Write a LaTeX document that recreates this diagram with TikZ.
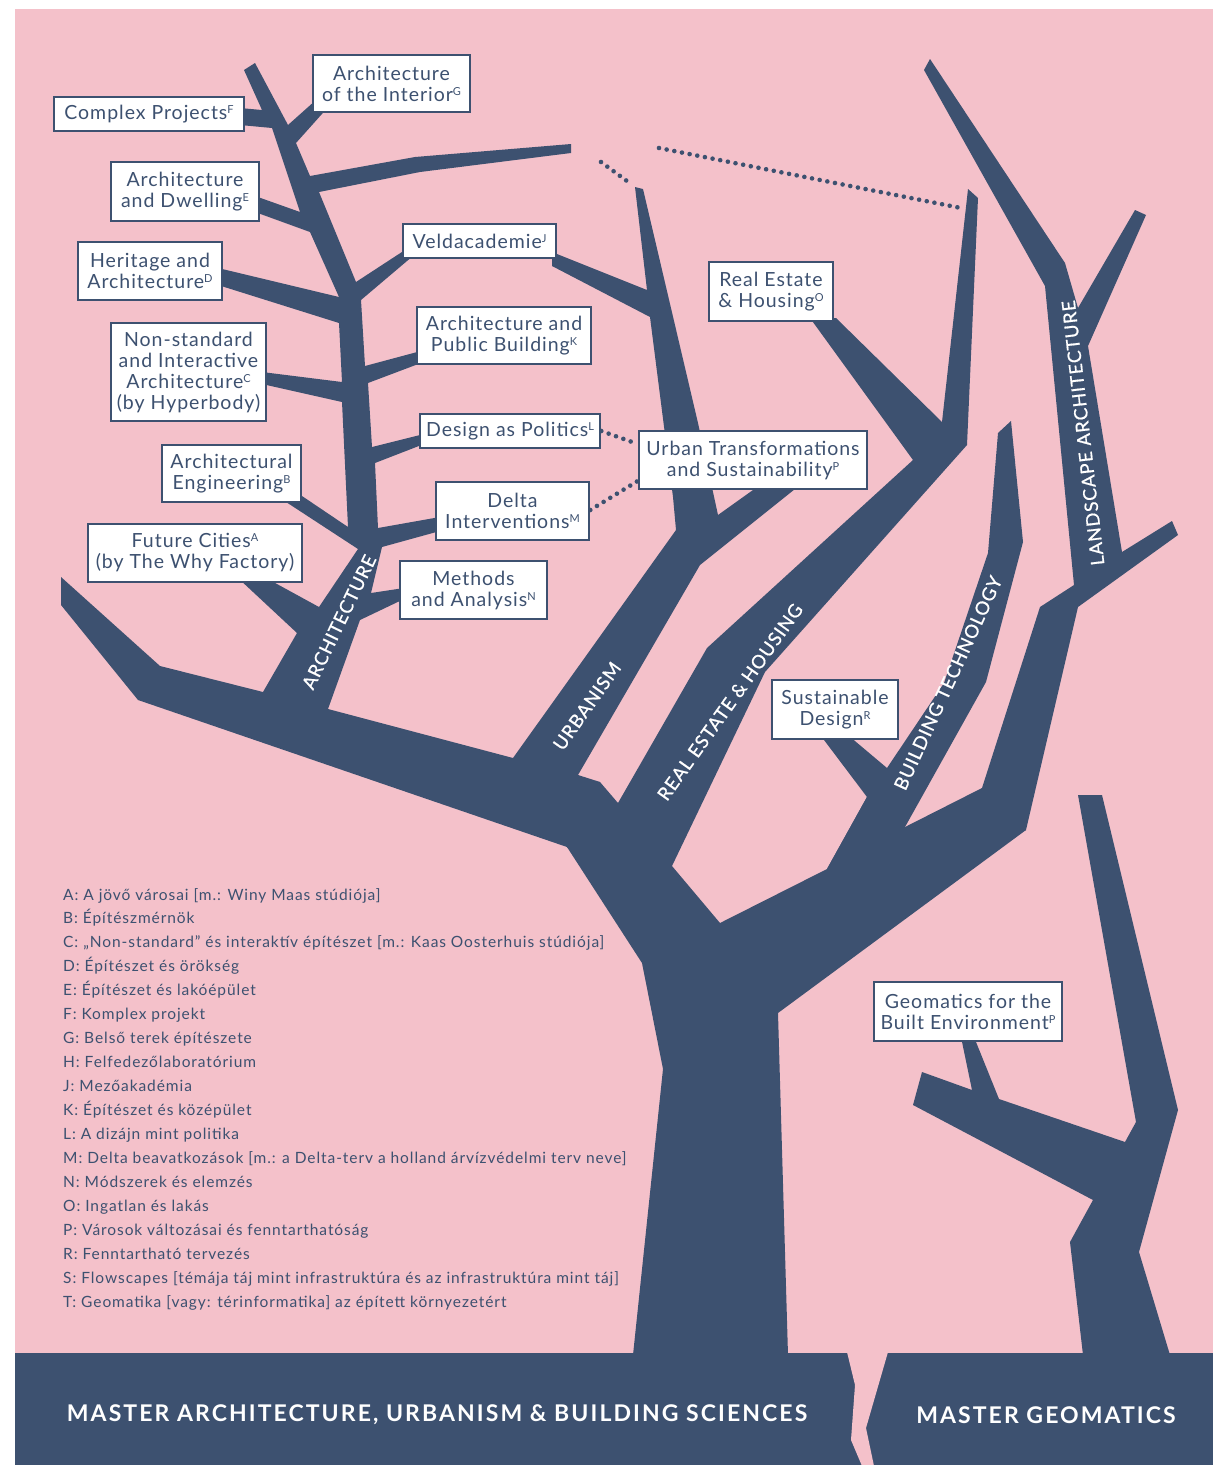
\documentclass[tikz,border=0pt]{standalone}
\usepackage{fontspec}
\setmainfont{Lato}
\usetikzlibrary{calc}
\definecolor{pinkbg}{HTML}{F4C1CA}
\definecolor{navy}{HTML}{3D5170}
% small raised index letter after a programme name
\newcommand{\idx}[1]{\raisebox{6pt}{\fontsize{11}{11}\selectfont #1}}

\begin{document}
\begin{tikzpicture}[x=1pt,y=-1pt,
  wood/.style={fill=navy,draw=none},
  box/.style={draw=navy,line width=2.6pt,fill=white,text=navy,align=center,inner sep=0pt,
    font=\fontsize{19.5}{21}\selectfont\addfontfeature{LetterSpace=5}},
  limb/.style={text=white,inner sep=0pt,
    font=\fontsize{18.5}{18.5}\selectfont\addfontfeature{LetterSpace=5,FakeBold=0.8}},
  dots/.style={navy,line width=4.6pt,line cap=round,dash pattern=on 0pt off 7.8pt},
  legend/.style={text=navy,anchor=base west,inner sep=0pt,
    font=\fontsize{15.5}{15.5}\selectfont\addfontfeature{LetterSpace=6}},
  band/.style={text=white,inner sep=0pt,
    font=\fontsize{23}{23}\selectfont\bfseries\addfontfeature{LetterSpace=9}}
]
\useasboundingbox (0,0) rectangle (1213,1465);
\fill[white] (0,0) rectangle (1213,1465);
\fill[pinkbg] (15,9) rectangle (1213,1353);
\fill[navy] (15,1353) rectangle (1213,1465);

% ---- main tree ----
% trunk and hub
\fill[wood] (633,1355) -- (663,1069) -- (642,963) -- (567,847) -- (520,780) -- (600,782)
  -- (618,803) -- (672,866) -- (720,923) -- (827,869) -- (867,797) -- (905,827)
  -- (982,788) -- (1026,830) -- (778,1013) -- (788,1355) -- cycle;
% long limb to the left
\fill[wood] (567,847) -- (138,700) -- (61,605) -- (61,577) -- (160,666) -- (263,692)
  -- (328,709) -- (513,758) -- (598,790) -- (600,880) -- cycle;
% architecture stem with its twigs (its foot reaches into the limb)
\fill[wood] (263,692) -- (297,633) -- (238,578) -- (266,578) -- (319,607) -- (358,549)
  -- (283,500) -- (302,496) -- (348,527) -- (342,402) -- (262,384) -- (262,372)
  -- (342,382) -- (339,323) -- (218,285) -- (218,268) -- (339,297) -- (310,232)
  -- (255,212) -- (255,196) -- (300,212) -- (272,128) -- (240,125) -- (240,108)
  -- (262,110) -- (244,70) -- (255,63) -- (288,125) -- (316,100) -- (330,105)
  -- (296,143) -- (310,176) -- (415,157) -- (571,144) -- (571,153) -- (420,172)
  -- (319,192) -- (356,282) -- (405,250) -- (420,250) -- (361,300) -- (365,366)
  -- (421,351) -- (421,363) -- (368,383) -- (372,447) -- (424,434) -- (424,444)
  -- (375,463) -- (378,528) -- (440,517) -- (440,531) -- (382,547) -- (371,593)
  -- (404,588) -- (404,599) -- (360,620) -- (328,709) -- (330,730) -- (260,715) -- cycle;
% urbanism
\fill[wood] (513,758) -- (676,530) -- (673,497) -- (650,317) -- (552,266) -- (552,252)
  -- (647,290) -- (635,187) -- (643,189) -- (698,423) -- (718,515) -- (760,485)
  -- (800,485) -- (700,565) -- (578,775) -- (600,782) -- (600,830) -- (540,820) -- cycle;
% real estate and housing
\fill[wood] (618,803) -- (707,648) -- (913,460) -- (810,318) -- (836,318) -- (942,422)
  -- (968,189) -- (978,198) -- (967,445) -- (765,672) -- (672,866) -- (640,870) -- cycle;
% building technology
\fill[wood] (867,797) -- (821,736) -- (849,736) -- (887,768) -- (944,683) -- (988,553)
  -- (998,433) -- (1011,421) -- (1023,542) -- (986,682) -- (905,827) -- (827,869) -- cycle;
% landscape architecture (its foot reaches into the hub)
\fill[wood] (982,788) -- (1040,607) -- (1074,585) -- (1045,286) -- (924,70) -- (930,59)
  -- (1065,263) -- (1078,308) -- (1135,210) -- (1146,215) -- (1088,346) -- (1122,552)
  -- (1172,521) -- (1178,535) -- (1078,607) -- (1026,830) -- (960,865) -- (960,810) -- cycle;

% ---- geomatics tree ----
\fill[wood] (1083,1355) -- (1070,1242) -- (1093,1200) -- (913,1105) -- (922,1072)
  -- (972,1090) -- (961,1037) -- (974,1037) -- (999,1099) -- (1125,1142) -- (1136,1122)
  -- (1078,795) -- (1102,795) -- (1178,1110) -- (1139,1252) -- (1170,1355) -- cycle;

% crack in the base band
\fill[pinkbg] (847,1352) -- (855,1385) -- (851,1440) -- (862,1466) -- (874,1466)
  -- (866,1428) -- (888,1352) -- cycle;

% dotted continuations
\coordinate (ua) at (601,162);
\coordinate (ub) at (631,184);
\coordinate (ha) at (659,148);
\coordinate (hb) at (961,208);
\draw[dots] (ua) -- (ub);
\draw[dots] (ha) -- (hb);

% ---- programme boxes ----
\node[box,minimum width=190,minimum height=34] (F) at (149,114) {Complex Projects\idx{F}};
\node[box,minimum width=157,minimum height=57] (G) at (391.5,83.5) {Architecture\\of the Interior\idx{G}};
\node[box,minimum width=148,minimum height=59] (E) at (185,191.5) {Architecture\\and Dwelling\idx{E}};
\node[box,minimum width=144,minimum height=58] (D) at (150,271) {Heritage and\\Architecture\idx{D}};
\node[box,minimum width=155,minimum height=98] (C) at (188.5,372) {Non-standard\\and Interactive\\Architecture\idx{C}\\(by Hyperbody)};
\node[box,minimum width=139,minimum height=57] (B) at (231.5,473.5) {Architectural\\Engineering\idx{B}};
\node[box,minimum width=214,minimum height=58] (A) at (195,553) {Future Cities\idx{A}\\(by The Why Factory)};
\node[box,minimum width=153,minimum height=34] (J) at (479.5,241) {Veldacademie\idx{J}};
\node[box,minimum width=174,minimum height=57] (K) at (504,335.5) {Architecture and\\Public Building\idx{K}};
\node[box,minimum width=180,minimum height=34] (L) at (510,431) {Design as Politics\idx{L}};
\node[box,minimum width=153,minimum height=58] (M) at (512.5,511) {Delta\\Interventions\idx{M}};
\node[box,minimum width=147,minimum height=58] (N) at (473.5,590) {Methods\\and Analysis\idx{N}};
\node[box,minimum width=124,minimum height=59] (O) at (771,291.5) {Real Estate\\\& Housing\idx{O}};
\node[box,minimum width=228,minimum height=58] (P) at (753,460) {Urban Transformations\\and Sustainability\idx{P}};
\node[box,minimum width=126,minimum height=59] (R) at (835,709.5) {Sustainable\\Design\idx{R}};
\node[box,minimum width=188,minimum height=59] (T) at (968,1011.5) {Geomatics for the\\Built Environment\idx{P}};

% dotted links to Urban Transformations
\draw[dots] (L.east) -- ([yshift=16pt]P.west);
\draw[dots] ([yshift=1pt]M.east) -- ([yshift=-21pt]P.west);

% ---- limb names ----
\node[limb,rotate=64.2] (larch) at (339,622) {ARCHITECTURE};
\node[limb,rotate=54.8] (lurb) at (587,706) {URBANISM};
\node[limb,rotate=54.6] (lreh) at (730,702) {REAL ESTATE \& HOUSING};
\node[limb,rotate=65.3] (lbt) at (948,683) {BUILDING TECHNOLOGY};
\node[limb,rotate=96.4] (lla) at (1083,433) {LANDSCAPE ARCHITECTURE};

% ---- legend ----
\foreach \txt [count=\i from 0] in {
  {A: A jövő városai [m.: Winy Maas stúdiója]},
  {B: Építészmérnök},
  {C: „Non-standard” és interaktív építészet [m.: Kaas Oosterhuis stúdiója]},
  {D: Építészet és örökség},
  {E: Építészet és lakóépület},
  {F: Komplex projekt},
  {G: Belső terek építészete},
  {H: Felfedezőlaboratórium},
  {J: Mezőakadémia},
  {K: Építészet és középület},
  {L: A dizájn mint politika},
  {M: Delta beavatkozások [m.: a Delta-terv a holland árvízvédelmi terv neve]},
  {N: Módszerek és elemzés},
  {O: Ingatlan és lakás},
  {P: Városok változásai és fenntarthatóság},
  {R: Fenntartható tervezés},
  {S: Flowscapes [témája táj mint infrastruktúra és az infrastruktúra mint táj]},
  {T: Geomatika [vagy: térinformatika] az épített környezetért}}
  \node[legend] (leg\i) at (63,{900+23.95*\i}) {\txt};

% ---- base band ----
\node[band] (mabs) at (437,1415) {MASTER ARCHITECTURE, URBANISM \& BUILDING SCIENCES};
\node[band] (mgeo) at (1046,1415) {MASTER GEOMATICS};
\end{tikzpicture}
\end{document}
